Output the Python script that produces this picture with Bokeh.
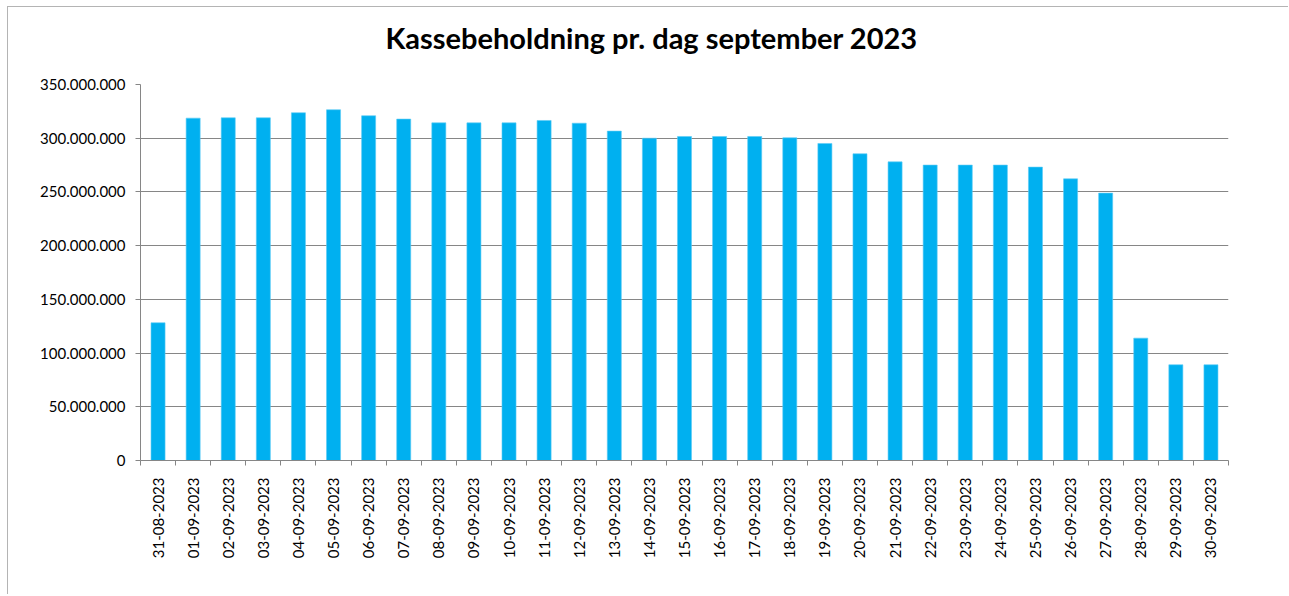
import math
from bokeh.plotting import figure
from bokeh.models import ColumnDataSource, FixedTicker, Range1d, Title
from bokeh.embed import file_html
from bokeh.resources import INLINE

dates = ["31-08-2023"] + [f"{d:02d}-09-2023" for d in range(1, 31)]
values = [128_200_000, 318_700_000, 319_000_000, 319_000_000, 323_700_000, 326_500_000,
          320_900_000, 317_800_000, 314_300_000, 314_300_000, 314_300_000, 316_500_000,
          314_000_000, 306_600_000, 300_000_000, 301_600_000, 301_600_000, 301_600_000,
          300_400_000, 295_100_000, 285_500_000, 278_000_000, 275_000_000, 275_000_000,
          275_000_000, 273_100_000, 262_200_000, 248_900_000, 113_900_000, 89_100_000,
          89_100_000]
y_ticks = [0, 50_000_000, 100_000_000, 150_000_000, 200_000_000, 250_000_000, 300_000_000, 350_000_000]
title_text = "Kassebeholdning pr. dag september 2023"

idx = list(range(len(dates)))
src = ColumnDataSource(dict(x=idx, top=values, label=dates))

GRAY = "#868686"
FONT = "Lato"

p = figure(width=1281, height=588, output_backend="svg", toolbar_location=None, title=None,
           x_range=Range1d(-0.5, len(dates) - 0.5), y_range=Range1d(0, 350_000_000),
           min_border_left=132, min_border_right=61, min_border_top=77, min_border_bottom=135)
p.styles = {"margin-left": "7px", "margin-top": "6px",
            "border-left": "1px solid #b4b4b4", "border-top": "1px solid #b4b4b4"}
p.outline_line_color = None

p.vbar(x="x", top="top", width=0.4, source=src, fill_color="#00B0F0", line_color="#5CCBF5", line_width=0.6)

# spacer between frame and title (closest to the frame)
p.add_layout(Title(text=" ", text_font_size="1px", standoff=27), "above")
# main title
p.add_layout(Title(text=title_text, align="left", offset=245, vertical_align="bottom",
                   text_font=FONT, text_font_size="29px", text_font_style="bold",
                   text_color="#000000", standoff=0), "above")

# y axis
ya = p.yaxis[0]
ya.ticker = FixedTicker(ticks=y_ticks)
ya.major_label_overrides = {v: f"{v:,}".replace(",", ".") for v in y_ticks}
ya.axis_line_color = GRAY
ya.major_tick_line_color = GRAY
ya.major_tick_in = 0
ya.major_tick_out = 5
ya.minor_tick_line_color = None
ya.major_label_text_font = FONT
ya.major_label_text_font_size = "15px"
ya.major_label_text_color = "#000000"
ya.major_label_standoff = 10

# x axis
xa = p.xaxis[0]
xa.ticker = FixedTicker(ticks=idx, minor_ticks=[i - 0.5 for i in range(len(dates) + 1)])
xa.major_label_overrides = {i: d for i, d in zip(idx, dates)}
xa.major_label_orientation = math.pi / 2
xa.axis_line_color = GRAY
xa.major_tick_line_color = None
xa.major_tick_in = 0
xa.major_tick_out = 0
xa.minor_tick_line_color = GRAY
xa.minor_tick_in = 0
xa.minor_tick_out = 5
xa.major_label_text_font = FONT
xa.major_label_text_font_size = "15px"
xa.major_label_text_color = "#000000"
xa.major_label_standoff = 12

p.xgrid.grid_line_color = None
p.ygrid.ticker = FixedTicker(ticks=y_ticks)
p.ygrid.grid_line_color = GRAY
p.ygrid.grid_line_width = 1

open("out.html", "w").write(file_html(p, INLINE))
